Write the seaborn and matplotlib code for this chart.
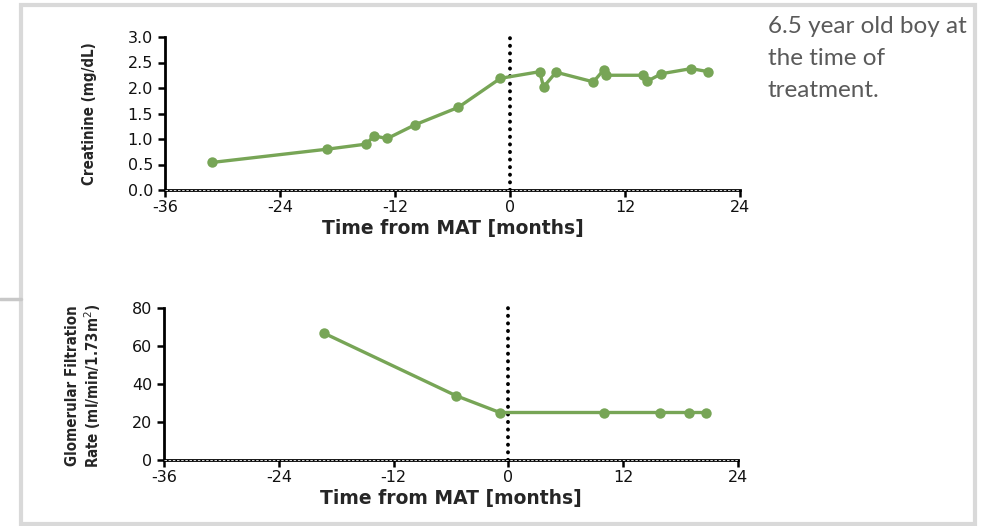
import matplotlib
matplotlib.use("Agg")
import matplotlib.pyplot as plt
import seaborn as sns
import pandas as pd
from matplotlib.patches import Rectangle
from matplotlib.lines import Line2D

# ---- data ----
creat_months = [-31.1, -19.1, -15.0, -14.2, -12.8, -9.9, -5.4, -1.0,
                3.1, 3.5, 4.8, 8.7, 9.8, 10.0, 13.9, 14.3, 15.8, 18.9, 20.7]
creat_values = [0.54, 0.80, 0.90, 1.06, 1.01, 1.28, 1.62, 2.19,
                2.32, 2.02, 2.31, 2.12, 2.36, 2.25, 2.25, 2.13, 2.28, 2.38, 2.32]

gfr_months = [-19.3, -5.5, -0.9, 10.0, 15.8, 18.9, 20.7]
gfr_values = [66.8, 33.9, 25.0, 25.0, 25.0, 25.0, 25.0]

x_ticks = [-36, -24, -12, 0, 12, 24]
creat_yticks = [0.0, 0.5, 1.0, 1.5, 2.0, 2.5, 3.0]
gfr_yticks = [0, 20, 40, 60, 80]

note_text = "6.5 year old boy at\nthe time of\ntreatment."

GREEN = "#77a556"
W, H = 983, 526

sns.set_theme(style="white")
plt.rcParams["font.family"] = ["DejaVu Sans"]

fig = plt.figure(figsize=(W / 100, H / 100), dpi=100)
fig.patch.set_facecolor("white")

def px_axes(left, top, right, bottom):
    return fig.add_axes([left / W, (H - bottom) / H, (right - left) / W, (bottom - top) / H])

ax1 = px_axes(165, 37, 740, 190)
ax2 = px_axes(164, 308, 738, 460)

df1 = pd.DataFrame({"month": creat_months, "value": creat_values})
df2 = pd.DataFrame({"month": gfr_months, "value": gfr_values})

for ax, df, yt, ymax, fmt in [(ax1, df1, creat_yticks, 3.0, "{:.1f}"),
                              (ax2, df2, gfr_yticks, 80, "{:d}")]:
    sns.lineplot(data=df, x="month", y="value", ax=ax, color=GREEN, linewidth=2.4,
                 marker="o", markersize=7.5, markeredgewidth=0, estimator=None,
                 sort=False, zorder=4)
    ax.set_xlim(-36, 24)
    ax.set_ylim(0, ymax)
    ax.set_xticks(x_ticks)
    ax.set_xticklabels([str(t) for t in x_ticks])
    ax.set_yticks(yt)
    ax.set_yticklabels([fmt.format(v) for v in yt])
    for s in ["top", "right"]:
        ax.spines[s].set_visible(False)
    for s in ["left", "bottom"]:
        ax.spines[s].set_linewidth(2.0)
        ax.spines[s].set_color("black")
        ax.spines[s].set_zorder(2.5)
    ax.tick_params(axis="both", which="major", direction="out", length=5, width=1.8,
                   color="black", labelsize=11.5, labelcolor="#111111")
    ax.tick_params(axis="x", pad=2.0)
    ax.tick_params(axis="y", pad=3.5)
    ax.xaxis.set_ticks_position("bottom")
    ax.yaxis.set_ticks_position("left")
    # vertical dotted line at treatment time
    ax.plot([0, 0], [0, ymax], color="black", linestyle=(0, (0.05, 1.9)), linewidth=2.8,
            dash_capstyle="round", zorder=3, clip_on=False)
    # dashed overlay on the x-axis baseline
    ax.axhline(0, color="white", linestyle=(0, (3, 2)), linewidth=0.6, zorder=3, clip_on=False)
    ax.set_xlabel("Time from MAT [months]", fontsize=13.5, fontweight="bold", labelpad=3)
    ax.set_facecolor("white")

ylab_font = dict(family=["DejaVu Sans"], fontweight="bold", fontstretch="condensed", fontsize=10.8)
ax1.set_ylabel("Creatinine (mg/dL)", **ylab_font)
ax1.yaxis.set_label_coords(-0.118, 0.5)
ax2.set_ylabel("Glomerular Filtration\nRate (ml/min/1.73m$^2$)", linespacing=1.15, **ylab_font)
ax2.yaxis.set_label_coords(-0.106, 0.49)

# annotation text
fig.text(768 / W, (H - 16) / H, note_text, ha="left", va="top", fontsize=17.5,
         color="#5a5a5a", family=["Lato", "DejaVu Sans"], linespacing=1.64)

# gray frame
fig.add_artist(Rectangle((21 / W, (H - 524) / H), (975 - 21) / W, (524 - 5) / H,
                         transform=fig.transFigure, fill=False, edgecolor="#d9d9d9",
                         linewidth=3.0, zorder=0))
fig.add_artist(Line2D([0, 21 / W], [(H - 299) / H] * 2, transform=fig.transFigure,
                      color="#c8c8c8", linewidth=2.5))

fig.savefig("out.png", dpi=100, facecolor="white")
